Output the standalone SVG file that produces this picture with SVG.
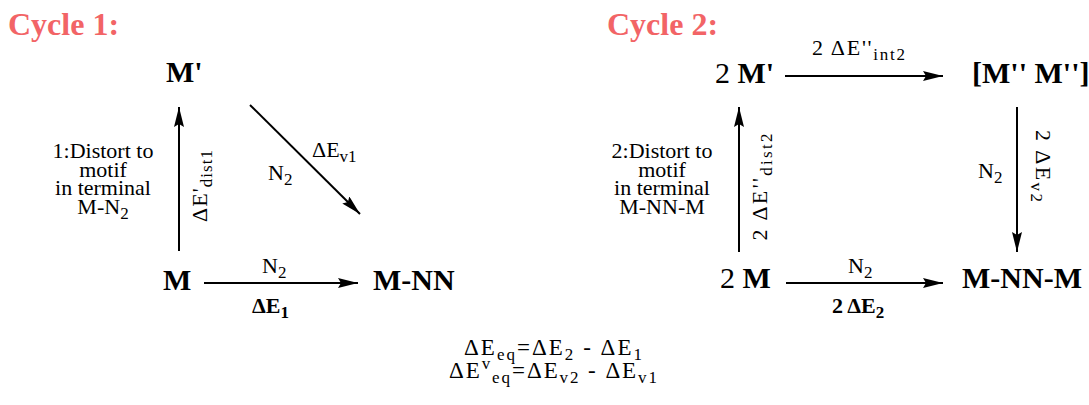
<svg xmlns="http://www.w3.org/2000/svg" width="1089" height="405" viewBox="0 0 1089 405">
<style>
text{font-family:"Liberation Serif","Times New Roman",serif;fill:#000}
.title{font-size:32px;font-weight:bold;fill:#f26466}
.node{font-size:30px;font-weight:bold}
.lbl{font-size:22px}
.eq{font-size:23px}
.b{font-weight:bold}
.n{font-weight:normal}
.sub{font-size:17px}
.mid{text-anchor:middle}
.arr{stroke:#000;stroke-width:2;fill:none;marker-end:url(#ah)}
</style>
<defs>
<marker id="ah" markerUnits="userSpaceOnUse" markerWidth="22" markerHeight="12" refX="20" refY="5" orient="auto">
<path d="M0,0 L20,5 L0,10 L3,5 z" fill="#000"/>
</marker>
</defs>
<text class="title" x="8" y="35">Cycle 1:</text>
<text class="title" x="607" y="35">Cycle 2:</text>
<g id="connectors">
<line class="arr" x1="179" y1="251" x2="179" y2="107"/>
<line class="arr" x1="250" y1="105" x2="360" y2="214"/>
<line class="arr" x1="204" y1="283" x2="358" y2="283"/>
<line class="arr" x1="785" y1="76" x2="943" y2="76"/>
<line class="arr" x1="739" y1="252" x2="739" y2="107"/>
<line class="arr" x1="1017" y1="107" x2="1017" y2="252"/>
<line class="arr" x1="786" y1="283" x2="943" y2="283"/>
</g>
<g id="labels">
<text class="lbl mid"><tspan x="103" y="158">1:Distort to</tspan><tspan x="103" y="176.5">motif</tspan><tspan x="103" y="195">in terminal</tspan><tspan x="103" y="213.5">M-N<tspan class="sub" dy="5">2</tspan></tspan></text>
<text class="lbl mid" transform="translate(207,186) rotate(-90)" x="0" y="0" textLength="72">ΔE'<tspan class="sub" dy="5">dist1</tspan></text>
<text class="lbl" x="312" y="157">ΔE<tspan class="sub" dy="5">v1</tspan></text>
<text class="lbl" x="268" y="180">N<tspan class="sub" dy="5">2</tspan></text>
<text class="lbl" x="262" y="273">N<tspan class="sub" dy="5">2</tspan></text>
<text class="lbl b" x="252" y="313">ΔE<tspan class="sub" dy="5">1</tspan></text>
<text class="lbl" x="812" y="55" textLength="93">2 ΔE''<tspan class="sub" dy="5">int2</tspan></text>
<text class="lbl mid"><tspan x="662" y="158">2:Distort to</tspan><tspan x="662" y="176.5">motif</tspan><tspan x="662" y="195">in terminal</tspan><tspan x="662" y="213.5">M-NN-M</tspan></text>
<text class="lbl mid" transform="translate(767,187) rotate(-90)" x="0" y="0" textLength="107">2 ΔE''<tspan class="sub" dy="5">dist2</tspan></text>
<text class="lbl mid" transform="translate(1036,166) rotate(90)" x="0" y="0" textLength="72">2 ΔE<tspan class="sub" dy="5">v2</tspan></text>
<text class="lbl" x="978" y="178">N<tspan class="sub" dy="5">2</tspan></text>
<text class="lbl" x="848" y="273">N<tspan class="sub" dy="5">2</tspan></text>
<text class="lbl b" x="832" y="313">2 ΔE<tspan class="sub" dy="5">2</tspan></text>
</g>
<g id="node-Mprime"><text class="node" x="166" y="82">M'</text></g>
<g id="node-M"><text class="node" x="163" y="290">M</text></g>
<g id="node-MNN"><text class="node" x="373" y="290">M-NN</text></g>
<g id="node-2Mprime"><text class="node" x="715" y="83"><tspan class="n">2 </tspan>M'</text></g>
<g id="node-MppMpp"><text class="node" x="972" y="83">[M'' M'']</text></g>
<g id="node-2M"><text class="node" x="720" y="288"><tspan class="n">2 </tspan>M</text></g>
<g id="node-MNNM"><text class="node" x="962" y="288">M-NN-M</text></g>
<g id="equations">
<text class="eq mid" x="553" y="355" textLength="178">ΔE<tspan class="sub" dy="5">eq</tspan><tspan dy="-5">=ΔE</tspan><tspan class="sub" dy="5">2</tspan><tspan dy="-5"> - ΔE</tspan><tspan class="sub" dy="5">1</tspan></text>
<text class="eq mid" x="553" y="378" textLength="208">ΔE<tspan class="sub" dy="-9">v</tspan><tspan class="sub" dy="14">eq</tspan><tspan dy="-5">=ΔE</tspan><tspan class="sub" dy="5">v2</tspan><tspan dy="-5"> - ΔE</tspan><tspan class="sub" dy="5">v1</tspan></text>
</g>
</svg>
